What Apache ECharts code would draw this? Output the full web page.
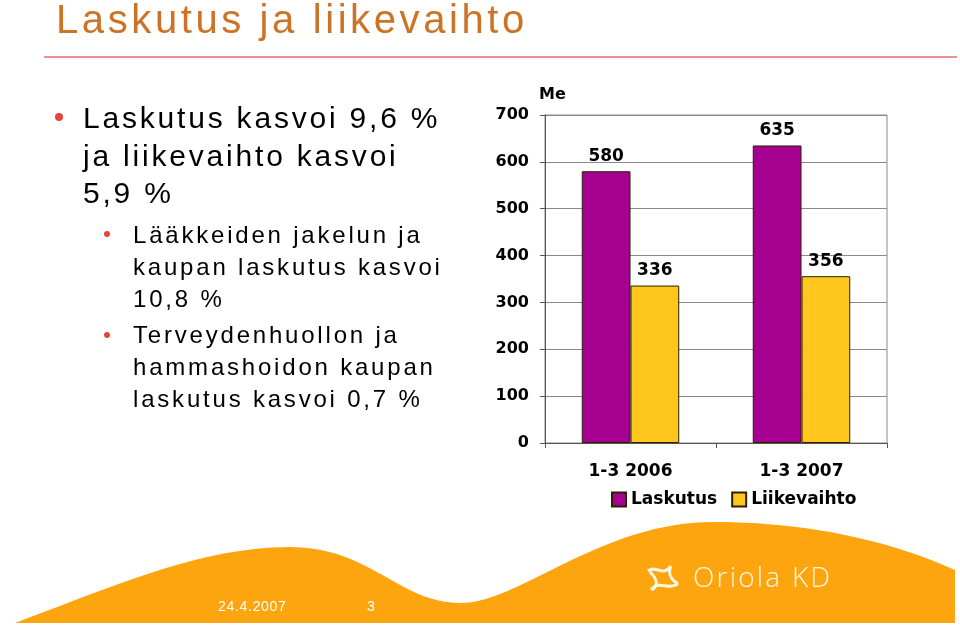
<!DOCTYPE html>
<html>
<head>
<meta charset="utf-8">
<script src="https://cdn.jsdelivr.net/npm/echarts@6/dist/echarts.min.js"></script>
<style>
  html, body { margin: 0; padding: 0; background: #fff; }
  #page { position: relative; width: 960px; height: 625px; overflow: hidden; }
  #wave { position: absolute; left: 0; top: 0; }
  #chart { position: absolute; left: 0; top: 0; width: 960px; height: 625px; }
  .txt { position: absolute; font-family: "Liberation Sans", Arial, sans-serif; white-space: nowrap; }
  #title { left: 56px; top: -1px; font-size: 40px; line-height: 40px; letter-spacing: 3.6px; color: #cd7325; }
  #rule { position: absolute; left: 44px; top: 56px; width: 913px; height: 2px; background: #e5958a; }
  #main { left: 83px; top: 99px; font-size: 30px; line-height: 37.5px; letter-spacing: 2.8px; color: #000; }
  .sub { left: 133px; font-size: 24px; line-height: 31.8px; letter-spacing: 2.8px; color: #000; }
  .dot { position: absolute; border-radius: 50%; background: #e8443a; }
  .foot { color: #fff; font-size: 14px; line-height: 14px; letter-spacing: 0.7px; top: 599px; }
  #logo { left: 693px; top: 562px; font-family: "Open Sans", sans-serif; font-weight: 300; font-size: 28px; line-height: 28px; color: #fff6e0; letter-spacing: 2.2px; }
</style>
</head>
<body>
<div id="page">
  <svg id="wave" width="960" height="625">
    <path d="M15 623 C110 588 200 547 290 547 C370 547 400 603 460 603 C520 603 600 522 713 522 C820 522 900 545 955 570 L955 623 Z" fill="#fda50f"/>
    <path d="M648 571 C656 564 662 578 671 566 M651 590 C659 579 667 591 678 584 M650 572 C657 579 659 585 652 590 M671 566 C667 575 672 580 678 584" fill="none" stroke="#fff6e0" stroke-width="3"/>
  </svg>
  <div id="chart"></div>
  <div id="title" class="txt">Laskutus ja liikevaihto</div>
  <div id="rule"></div>
  <div class="dot" style="left:55px;top:113px;width:8px;height:8px"></div>
  <div id="main" class="txt">Laskutus kasvoi 9,6 %<br>ja liikevaihto kasvoi<br>5,9 %</div>
  <div class="dot" style="left:104px;top:231px;width:6px;height:6px"></div>
  <div class="txt sub" style="top:219px">Lääkkeiden jakelun ja<br>kaupan laskutus kasvoi<br>10,8 %</div>
  <div class="dot" style="left:104px;top:332px;width:6px;height:6px"></div>
  <div class="txt sub" style="top:319px">Terveydenhuollon ja<br>hammashoidon kaupan<br>laskutus kasvoi 0,7 %</div>
  <div class="txt foot" style="left:218px">24.4.2007</div>
  <div class="txt foot" style="left:367px">3</div>
  <div id="logo" class="txt">Oriola KD</div>
</div>
<script>
// values
var categories = ['1-3 2006', '1-3 2007'];
var laskutus = [580, 635];
var liikevaihto = [336, 356];
var seriesNames = ['Laskutus', 'Liikevaihto'];
var yMin = 0, yMax = 700, yStep = 100;

var myChart = echarts.init(document.getElementById('chart'));
var boldFont = '"DejaVu Sans", sans-serif';

var option = {
  animation: false,
  grid: {
    left: 545, right: 73, top: 115, bottom: 182,
    show: true, borderColor: '#8a8a8a', borderWidth: 1
  },
  legend: {
    data: seriesNames,
    left: 606, top: 486,
    itemWidth: 14, itemHeight: 14, itemGap: 14,
    icon: 'rect',
    textStyle: { fontFamily: boldFont, fontWeight: 'bold', fontSize: 17, color: '#000' }
  },
  xAxis: {
    type: 'category',
    data: categories,
    axisLine: { lineStyle: { color: '#555', width: 1 } },
    axisTick: { show: true, length: 5, lineStyle: { color: '#555' } },
    axisLabel: { margin: 20, fontFamily: boldFont, fontWeight: 'bold', fontSize: 17, color: '#000' }
  },
  yAxis: {
    type: 'value',
    min: yMin, max: yMax, interval: yStep,
    name: 'Me',
    nameGap: 12,
    nameTextStyle: { align: 'left', fontFamily: boldFont, fontWeight: 'bold', fontSize: 16, color: '#000', padding: [0, 0, 0, -6] },
    axisLine: { show: true, lineStyle: { color: '#555' } },
    axisTick: { show: true, length: 5, lineStyle: { color: '#555' } },
    axisLabel: { margin: 16, fontFamily: boldFont, fontWeight: 'bold', fontSize: 16, color: '#000' },
    splitLine: { lineStyle: { color: '#8a8a8a', width: 1 } }
  },
  series: [
    {
      name: seriesNames[0],
      type: 'bar',
      data: laskutus,
      barGap: '0%',
      barCategoryGap: '43%',
      itemStyle: { color: '#a5008f', borderColor: '#2b2000', borderWidth: 1 },
      label: { show: true, position: 'top', distance: 6, fontFamily: boldFont, fontWeight: 'bold', fontSize: 17, color: '#000' }
    },
    {
      name: seriesNames[1],
      type: 'bar',
      data: liikevaihto,
      itemStyle: { color: '#ffc61e', borderColor: '#2b2000', borderWidth: 1 },
      label: { show: true, position: 'top', distance: 6, fontFamily: boldFont, fontWeight: 'bold', fontSize: 17, color: '#000' }
    }
  ]
};

myChart.setOption(option);
</script>
</body>
</html>
